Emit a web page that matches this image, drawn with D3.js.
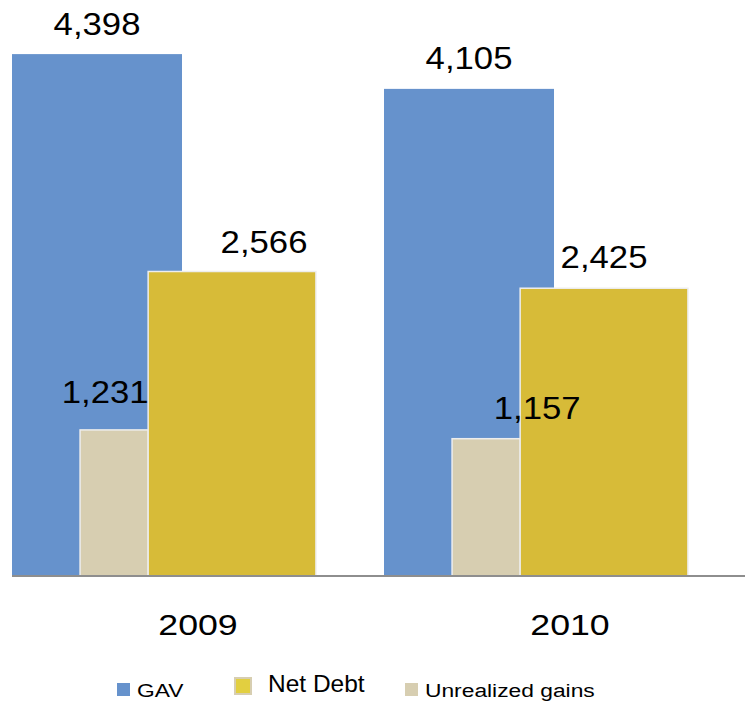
<!DOCTYPE html>
<html>
<head>
<meta charset="utf-8">
<script src="https://cdn.jsdelivr.net/npm/d3@7/dist/d3.min.js"></script>
<style>
  html, body { margin: 0; padding: 0; background: #fff; }
  svg { display: block; }
  text { font-family: "Liberation Sans", Arial, sans-serif; fill: #000; }
</style>
</head>
<body>
<svg id="chart" width="745" height="702"></svg>
<script>
// Values per year
const categories = ["2009", "2010"];
const gav = [4398, 4105];
const unrealizedGains = [1231, 1157];
const netDebt = [2566, 2425];
const seriesNames = ["GAV", "Net Debt", "Unrealized gains"];

// Colours
const colors = { "GAV": "#6692CC", "Net Debt": "#D7BB38", "Unrealized gains": "#D7CEB1" };

const W = 745, H = 702;
const baseY = 576;
const svg = d3.select("#chart");

const x = d3.scaleBand().domain(categories).range([12, 756]).padding(0);
const y = d3.scaleLinear().domain([0, 4500]).range([baseY, 42]);
// Position of each series inside a year's band (fractions of the band)
const inner = d3.scaleLinear().domain([0, 1]).range([0, x.bandwidth()]);
const slots = {
  "GAV": [0, 0.457],
  "Unrealized gains": [0.183, 0.366],
  "Net Debt": [0.366, 0.817]
};
// Value label nudges [dx, gap above bar]
const labelNudge = {
  "GAV": [[0, 19], [0, 20]],
  "Unrealized gains": [[-9, 27], [51, 20]],
  "Net Debt": [[32, 19], [0, 20]]
};

const seriesData = [
  { name: "GAV", values: gav },
  { name: "Unrealized gains", values: unrealizedGains },
  { name: "Net Debt", values: netDebt }
];

const fmt = d3.format(",");
const stretch = 1.12;

seriesData.forEach(s => {
  const g = svg.append("g");
  const rows = categories.map((c, i) => ({ c, i, v: s.values[i] }));
  g.selectAll("rect").data(rows).join("rect")
    .attr("x", d => x(d.c) + inner(slots[s.name][0]))
    .attr("width", d => inner(slots[s.name][1]) - inner(slots[s.name][0]))
    .attr("y", d => y(d.v))
    .attr("height", d => y(0) - y(d.v))
    .attr("fill", colors[s.name])
    .attr("stroke", s.name === "GAV" ? "none" : "#EDEDED")
    .attr("stroke-width", s.name === "GAV" ? 0 : 1.5);
});

// Value labels drawn after all bars so they sit on top
seriesData.forEach(s => {
  categories.forEach((c, i) => {
    const v = s.values[i];
    const cx = x(c) + (inner(slots[s.name][0]) + inner(slots[s.name][1])) / 2 + labelNudge[s.name][i][0];
    const ty = y(v) - labelNudge[s.name][i][1];
    svg.append("text")
      .attr("transform", `translate(${cx},${ty}) scale(${stretch},1)`)
      .attr("text-anchor", "middle")
      .attr("font-size", 31)
      .text(fmt(v));
  });
});

// Baseline
svg.append("line")
  .attr("x1", 12).attr("x2", W)
  .attr("y1", baseY).attr("y2", baseY)
  .attr("stroke", "#8E8E8E").attr("stroke-width", 2);

// Category labels
categories.forEach(c => {
  svg.append("text")
    .attr("transform", `translate(${x(c) + x.bandwidth() / 2},${635}) scale(1.19,1)`)
    .attr("text-anchor", "middle")
    .attr("font-size", 30)
    .text(c);
});

// Legend
const legendItems = [
  { name: "GAV", sx: 117, sy: 683, s: 13, tx: 137, ty: 697, fs: 19, sc: 1.2, border: false },
  { name: "Net Debt", sx: 235, sy: 678, s: 16, tx: 268, ty: 692, fs: 24, sc: 1.02, border: true },
  { name: "Unrealized gains", sx: 405, sy: 683, s: 13, tx: 425, ty: 697, fs: 19, sc: 1.2, border: false }
];
legendItems.forEach(it => {
  svg.append("rect")
    .attr("x", it.sx).attr("y", it.sy)
    .attr("width", it.s).attr("height", it.s)
    .attr("fill", it.name === "Net Debt" ? "#E2CF40" : colors[it.name])
    .attr("stroke", it.border ? "#D7CEB1" : "none")
    .attr("stroke-width", it.border ? 2 : 0);
  svg.append("text")
    .attr("transform", `translate(${it.tx},${it.ty}) scale(${it.sc},1)`)
    .attr("font-size", it.fs)
    .text(it.name);
});
</script>
</body>
</html>
